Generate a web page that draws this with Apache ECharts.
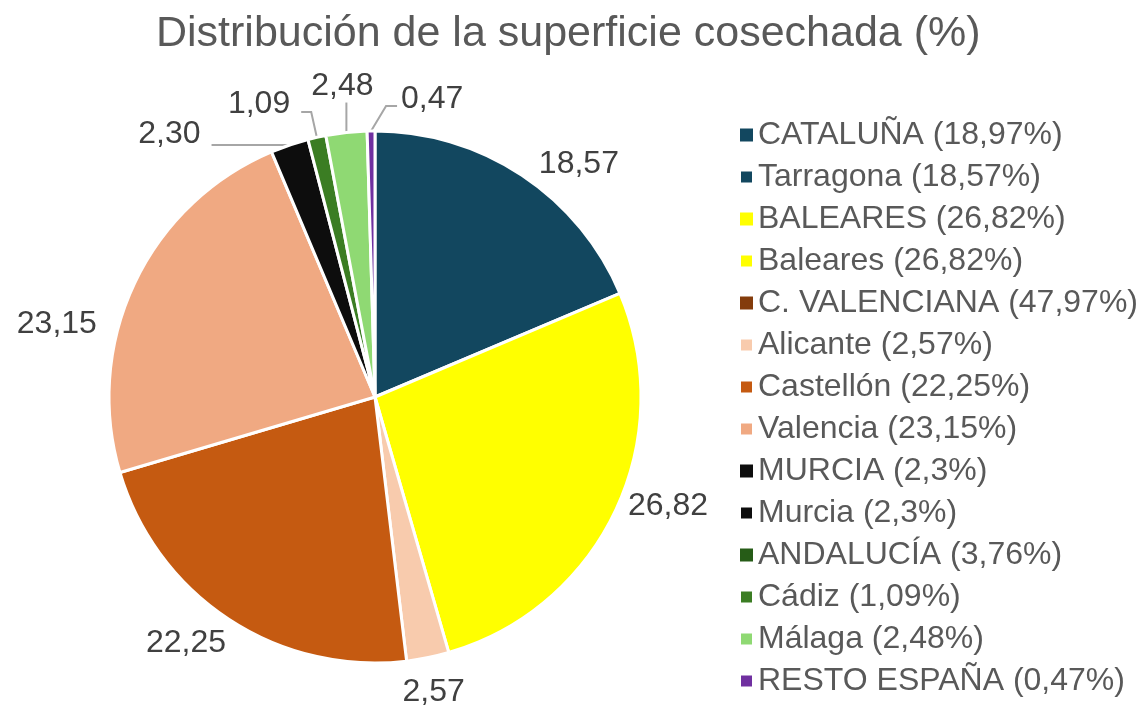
<!DOCTYPE html>
<html>
<head>
<meta charset="utf-8">
<script src="https://cdn.jsdelivr.net/npm/echarts@6/dist/echarts.min.js"></script>
<style>
  html, body { margin: 0; padding: 0; background: #fff; }
  #chart { width: 1140px; height: 708px; }
</style>
</head>
<body>
<div id="chart"></div>
<script>
  // legend order; upper-case rows are regional totals (legend only, no slice)
  const names = ['CATALUÑA', 'Tarragona', 'BALEARES', 'Baleares', 'C. VALENCIANA', 'Alicante',
    'Castellón', 'Valencia', 'MURCIA', 'Murcia', 'ANDALUCÍA', 'Cádiz', 'Málaga', 'RESTO ESPAÑA'];
  // slice values (0 = total row, not drawn)
  const values = [0, 18.57, 0, 26.82, 0, 2.57, 22.25, 23.15, 0, 2.30, 0, 1.09, 2.48, 0.47];
  // percentages printed in the legend
  const legendPct = ['18,97', '18,57', '26,82', '26,82', '47,97', '2,57', '22,25', '23,15',
    '2,3', '2,3', '3,76', '1,09', '2,48', '0,47'];
  const colors = ['#12475f', '#12475f', '#ffff00', '#ffff00', '#843c0c', '#f8cbad', '#c55a11',
    '#f0a982', '#0d0d0d', '#0d0d0d', '#265c17', '#3b7d23', '#8fd973', '#7030a0'];

  // label line lengths [length, length2] per slice, and label nudges [dx, dy]
  const lineLen = {1: [18, 0], 3: [12, 0], 5: [18, 0], 6: [14, 0], 7: [14, 0],
    9: [0, 78], 11: [26, 10], 12: [30, 0], 13: [26, 12]};
  const nudge = {1: [2, 4], 3: [-3, -10], 5: [-34, 17], 6: [10, 12], 7: [-20, 47],
    9: [-6, -11], 11: [-6, -8]};
  const withLine = [9, 11, 12, 13];

  const data = names.map((n, i) => {
    const item = { name: n, value: values[i], itemStyle: { color: colors[i] } };
    if (values[i] === 0) {
      item.itemStyle.borderWidth = 0;
      item.label = { show: false };
      item.labelLine = { show: false };
    } else {
      const l = lineLen[i] || [15, 0];
      item.labelLine = { show: withLine.indexOf(i) >= 0, length: l[0], length2: l[1] };
    }
    return item;
  });

  const chart = echarts.init(document.getElementById('chart'));
  chart.setOption({
    animation: false,
    title: {
      text: 'Distribución de la superficie cosechada (%)',
      left: 151,
      top: 8,
      textStyle: { fontFamily: 'Liberation Sans', fontSize: 43, fontWeight: 'normal', color: '#595959' }
    },
    legend: {
      orient: 'vertical',
      left: 734,
      top: 114,
      icon: 'rect',
      itemWidth: 13,
      itemHeight: 13,
      itemGap: 10,
      data: names,
      formatter: function (name) {
        return name + ' (' + legendPct[names.indexOf(name)] + '%)';
      },
      textStyle: { fontFamily: 'Liberation Sans', fontSize: 32, lineHeight: 32, color: '#595959' }
    },
    series: [{
      type: 'pie',
      center: [375, 397],
      radius: 266,
      startAngle: 90,
      clockwise: true,
      avoidLabelOverlap: false,
      itemStyle: { borderColor: '#fff', borderWidth: 3 },
      label: {
        show: true,
        position: 'outside',
        fontFamily: 'Liberation Sans',
        fontSize: 32,
        color: '#404040',
        formatter: function (p) { return p.value.toFixed(2).replace('.', ','); }
      },
      labelLine: { lineStyle: { color: '#a6a6a6', width: 2 }, smooth: false },
      labelLayout: function (p) {
        const pts = p.labelLinePoints;
        if (p.dataIndex === 12 && pts) {
          // Málaga: straight up, label centred above the line
          const a = pts[0];
          return {
            x: a[0] - 4, y: a[1] - 46, align: 'center', verticalAlign: 'middle',
            labelLinePoints: [a, [a[0], a[1] - 30], [a[0], a[1] - 30]]
          };
        }
        if (p.dataIndex === 13 && pts) {
          // Resto España: line bends to the right, label on the right
          const a = pts[0];
          return {
            x: a[0] + 30, y: a[1] - 32, align: 'left', verticalAlign: 'middle',
            labelLinePoints: [a, [a[0] + 15, a[1] - 25], [a[0] + 26, a[1] - 25]]
          };
        }
        const d = nudge[p.dataIndex];
        return d ? { dx: d[0], dy: d[1] } : {};
      },
      emphasis: { disabled: true },
      data: data
    }]
  });
</script>
</body>
</html>
